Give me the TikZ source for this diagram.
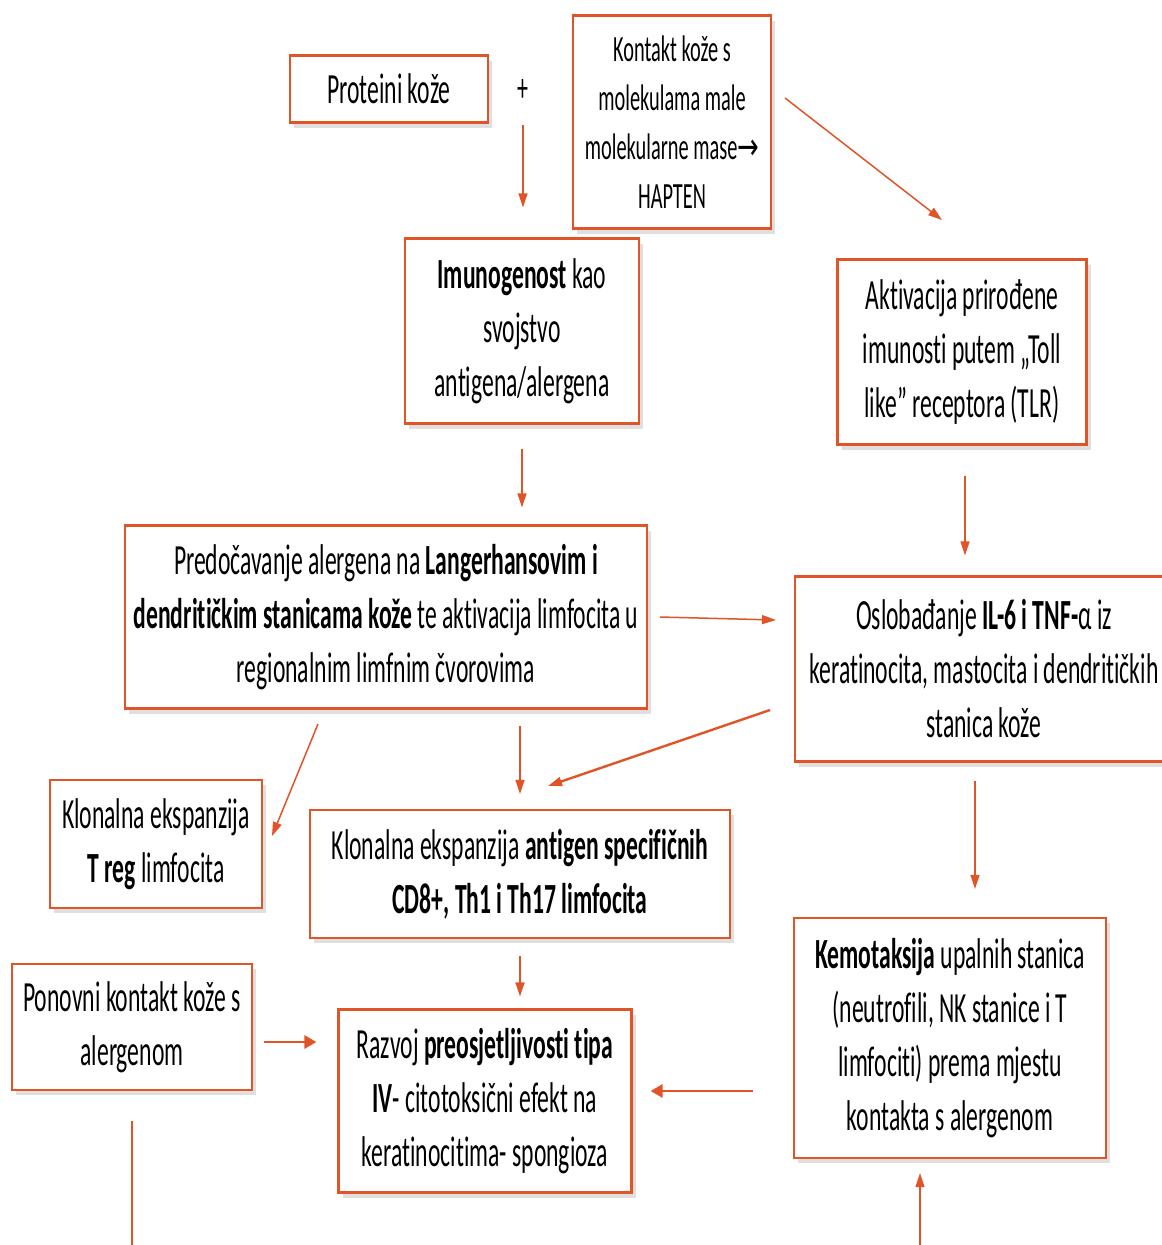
\documentclass[tikz,border=0pt]{standalone}
\usepackage{fontspec}
\setmainfont{Carlito}[FakeStretch=0.55, Ligatures=NoCommon]
\newfontfamily\arrowfont{DejaVu Sans}[FakeStretch=0.7]
\usetikzlibrary{arrows.meta,shadows}
\definecolor{boxred}{RGB}{224,84,40}
\begin{document}
\begin{tikzpicture}[x=1pt,y=-1pt,
  box/.style={draw=boxred, line width=2.2pt, fill=white, align=center, inner sep=0pt,
    drop shadow={opacity=0.25, shadow xshift=4pt, shadow yshift=-5pt},
    font=\fontsize{43}{54}\selectfont},
  conn/.style={draw=boxred, line width=1.5pt, -{Triangle[length=14pt,width=9pt]}},
  thickconn/.style={draw=boxred, line width=2.8pt, -{Triangle[length=12pt,width=13pt]}},
  plainline/.style={draw=boxred, line width=1.5pt},
]
\useasboundingbox (0,0) rectangle (1162,1245);

\node[box, minimum width=198pt, minimum height=67pt] (prot) at (389,89) {Proteini kože};
\node[font=\fontsize{40}{48}\selectfont] (plus) at (523,91) {+};
\node[box, minimum width=198pt, minimum height=213pt, font=\fontsize{37}{49}\selectfont] (kont) at (672,122)
  {Kontakt kože s\\ molekulama male\\ molekularne mase{\arrowfont →}\\ HAPTEN};
\node[box, minimum width=234pt, minimum height=185pt] (imuno) at (522,331)
  {\textbf{Imunogenost} kao\\ svojstvo\\ antigena/alergena};
\node[box, minimum width=249pt, minimum height=185pt] (aktiv) at (962,352)
  {Aktivacija prirođene\\ imunosti putem „Toll\\ like” receptora (TLR)};
\node[box, minimum width=522pt, minimum height=183pt] (pred) at (386,617)
  {Predočavanje alergena na \textbf{Langerhansovim i}\\ \textbf{dendritičkim stanicama kože} te aktivacija limfocita u\\ regionalnim limfnim čvorovima};
\node[box, minimum width=378pt, minimum height=185pt] (oslob) at (984,669)
  {Oslobađanje \textbf{IL-6 i TNF-}α iz\\ keratinocita, mastocita i dendritičkih\\ stanica kože};
\node[box, minimum width=212pt, minimum height=128pt] (treg) at (156,844)
  {Klonalna ekspanzija\\ \textbf{T reg} limfocita};
\node[box, minimum width=420pt, minimum height=128pt] (klon) at (520,874)
  {Klonalna ekspanzija \textbf{antigen specifičnih}\\ \textbf{CD8+, Th1 i Th17 limfocita}};
\node[box, minimum width=240pt, minimum height=126pt] (pon) at (132,1027)
  {Ponovni kontakt kože s\\ alergenom};
\node[box, minimum width=293pt, minimum height=183pt] (razv) at (485,1101)
  {Razvoj \textbf{preosjetljivosti tipa}\\ \textbf{IV}- citotoksični efekt na\\ keratinocitima- spongioza};
\node[box, minimum width=312pt, minimum height=240pt] (kemo) at (950,1038)
  {\textbf{Kemotaksija} upalnih stanica\\ (neutrofili, NK stanice i T\\ limfociti) prema mjestu\\ kontakta s alergenom};

\coordinate (b1) at (785,98);
\coordinate (b2) at (942,220);
\coordinate (e1) at (660,617);
\coordinate (e2) at (776,620);
\coordinate (f1) at (770,710);
\coordinate (f2) at (548,786);
\coordinate (g1) at (318,724);
\coordinate (g2) at (272,836);
\coordinate (bot1) at (132,1250);
\coordinate (bot2) at (920,1250);

\draw[conn, shorten <=34pt, shorten >=30pt] (plus.center) -- (plus.center |- imuno.north);
\draw[conn] (b1) -- (b2);
\draw[conn, shorten <=24pt, shorten >=17pt] (imuno.south) -- (imuno.south |- pred.north);
\draw[conn, shorten <=30pt, shorten >=20pt] ([xshift=3pt]aktiv.south) -- ([xshift=3pt]aktiv.south |- oslob.north);
\draw[conn] (e1) -- (e2);
\draw[conn, line width=2.4pt] (f1) -- (f2);
\draw[conn] (g1) -- (g2);
\draw[conn, shorten <=16pt, shorten >=15pt] (klon.north |- pred.south) -- (klon.north);
\draw[conn, shorten <=18pt, shorten >=28pt] ([xshift=-9pt]oslob.south) -- ([xshift=-9pt]oslob.south |- kemo.north);
\draw[conn, shorten <=17pt, shorten >=12pt] (klon.south) -- (klon.south |- razv.north);
\draw[thickconn, shorten <=11pt, shorten >=21pt] ([yshift=-15pt]pon.east) -- ([yshift=-15pt]pon.east -| razv.west);
\draw[thickconn, shorten <=40pt, shorten >=18pt] ([yshift=-53pt]kemo.west) -- ([yshift=-53pt]kemo.west -| razv.east);
\draw[plainline, shorten <=30pt] (pon.south) -- (bot1);
\draw[conn, shorten >=14pt] (bot2) -- (bot2 |- kemo.south);
\end{tikzpicture}
\end{document}
